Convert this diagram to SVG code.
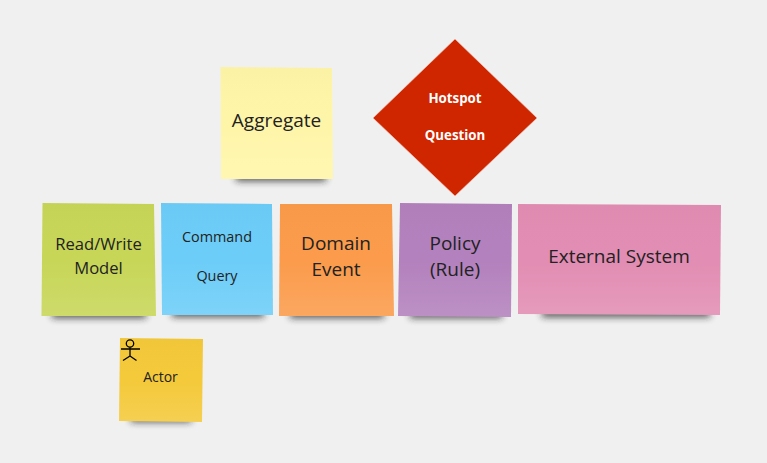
<svg xmlns="http://www.w3.org/2000/svg" width="767" height="463" viewBox="0 0 767 463">
<style>
text{font-family:"Open Sans","Noto Sans",sans-serif;fill:#222;text-anchor:middle}
.l{font-size:19px}.g{font-size:16.600px}.m{font-size:14.400px}.s{font-size:14px}
.h{font-size:13.300px;font-weight:700;fill:#fff}
.sh{fill:#222;opacity:.8;filter:url(#b)}
.fg{fill:url(#g)}
</style>
<defs>
<filter id="b" x="-20%" y="-150%" width="140%" height="400%"><feGaussianBlur stdDeviation="3.500"/></filter>
<linearGradient id="g" x1="0" y1="0" x2="0" y2="1"><stop offset="0" stop-color="#000" stop-opacity=".015"/><stop offset=".5" stop-color="#fff" stop-opacity="0"/><stop offset="1" stop-color="#fff" stop-opacity=".12"/></linearGradient>
</defs>
<rect width="767" height="463" fill="#f0f0f0"/>
<g id="connectors"/>
<g id="aggregate"><rect class="sh" x="236" y="174" width="90" height="7"/><polygon points="220.500,67 332,68 333,179 221,179" fill="#fff5a8"/><polygon class="fg" points="220.500,67 332,68 333,179 221,179"/><text class="l" x="276.500" y="127">Aggregate</text></g>
<g id="hotspot"><polygon points="455,39 537,118 455,196 373,118" fill="#cf2600" stroke="#f0c8c0" stroke-width=".6"/><text class="h" x="455" y="103">Hotspot</text><text class="h" x="455" y="140">Question</text></g>
<g id="read-write-model"><rect class="sh" x="52" y="311" width="94" height="7"/><polygon points="42.500,203 154,204 156,316 41.500,316" fill="#c7d657"/><polygon class="fg" points="42.500,203 154,204 156,316 41.500,316"/><text class="g" x="98.500" y="250">Read/Write</text><text class="g" x="98.500" y="274">Model</text></g>
<g id="command-query"><rect class="sh" x="172" y="310" width="92" height="7"/><polygon points="161,203 272,204 273,315 162,315" fill="#6ccdf8"/><polygon class="fg" points="161,203 272,204 273,315 162,315"/><text class="m" x="217" y="242">Command</text><text class="m" x="217" y="281">Query</text></g>
<g id="domain-event"><rect class="sh" x="290" y="311" width="94" height="7"/><polygon points="280,204 392,204 394,316 279,316" fill="#fb9b4b"/><polygon class="fg" points="280,204 392,204 394,316 279,316"/><text class="l" x="336" y="250">Domain</text><text class="l" x="336" y="276">Event</text></g>
<g id="policy"><rect class="sh" x="410" y="311" width="92" height="7"/><polygon points="400,203 512,204 511,317 398,316" fill="#b381bd"/><polygon class="fg" points="400,203 512,204 511,317 398,316"/><text class="l" x="455" y="250">Policy</text><text class="l" x="455" y="276">(Rule)</text></g>
<g id="external-system"><rect class="sh" x="542" y="310" width="168" height="7"/><polygon points="518,204 721,205 720,315 518,314" fill="#e28db3"/><polygon class="fg" points="518,204 721,205 720,315 518,314"/><text class="l" x="619" y="263">External System</text></g>
<g id="actor"><rect class="sh" x="131" y="416" width="60" height="6"/><polygon points="120,338 203,339 202,422 119,421" fill="#f4c93a"/><polygon class="fg" points="120,338 203,339 202,422 119,421"/><g fill="none" stroke="#000" stroke-width="1.300"><circle cx="130" cy="343.500" r="3.700"/><path d="M130 347.200V356M121 349H140M123 360.500L130 356L136.500 360.500"/></g><text class="s" x="160.500" y="382">Actor</text></g>
</svg>
